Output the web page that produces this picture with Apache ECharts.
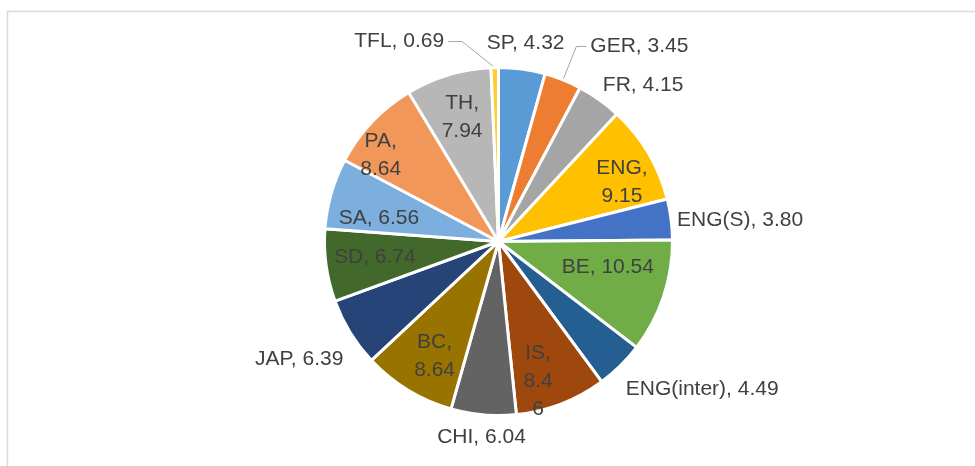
<!DOCTYPE html>
<html>
<head>
<meta charset="utf-8">
<script src="https://cdn.jsdelivr.net/npm/echarts@6/dist/echarts.min.js"></script>
<style>
  html, body { margin: 0; padding: 0; background: #ffffff; }
  #chart { width: 975px; height: 466px; }
</style>
</head>
<body>
<div id="chart"></div>
<script>
// ---- data ----
const categories = ['SP', 'GER', 'FR', 'ENG', 'ENG(S)', 'BE', 'ENG(inter)', 'IS', 'CHI', 'BC', 'JAP', 'SD', 'SA', 'PA', 'TH', 'TFL'];
const values = [4.32, 3.45, 4.15, 9.15, 3.80, 10.54, 4.49, 8.46, 6.04, 8.64, 6.39, 6.74, 6.56, 8.64, 7.94, 0.69];
const colors = ['#5B9BD5', '#ED7D31', '#A5A5A5', '#FFC000', '#4472C4', '#70AD47', '#255E91', '#9E480E', '#636363', '#997300', '#264478', '#43682B', '#7CAFDD', '#F1975A', '#B7B7B7', '#FFCD33'];

// ---- label placement / style (not data) ----
const labelPlacement = {
  'SP':         { pos: 'outside', len: 26, len2: 0, align: 'center' },
  'GER':        { pos: 'outside', len: 36, len2: 10, line: true },
  'FR':         { pos: 'outside', len: 18, len2: 0, dx: -7 },
  'ENG':        { pos: 'ring', wrap: 'two', dx: 3, dy: 12 },
  'ENG(S)':     { pos: 'outside', len: 6, len2: 0, dy: 2 },
  'BE':         { pos: 'inside', dx: 24, dy: -3 },
  'ENG(inter)': { pos: 'outside', len: 22, len2: 0, dx: -10, dy: 8 },
  'IS':         { pos: 'ring', wrap: 'split', dx: -11, dy: 9 },
  'CHI':        { pos: 'outside', len: 22, len2: 0, align: 'center' },
  'BC':         { pos: 'ring', wrap: 'two', dx: 9, dy: -5 },
  'JAP':        { pos: 'outside', len: 8, len2: 0, dy: 22 },
  'SD':         { pos: 'ring', dx: 15, dy: -4 },
  'SA':         { pos: 'ring', dx: 15, dy: 15 },
  'PA':         { pos: 'ring', wrap: 'two', dx: -16, dy: 10 },
  'TH':         { pos: 'ring', wrap: 'two', dx: 4, dy: 10 },
  'TFL':        { pos: 'outside', len: 26, len2: 46, line: true, bend: 14 }
};

const CX = 498.5, CY = 241.5, R = 174, RING_INNER = 100;
const TEXT_COLOR = '#404040';
const FONT = 'Liberation Sans, Arial, sans-serif';

function fmt(p) {
  const cfg = labelPlacement[p.name] || {};
  const v = Number(p.value).toFixed(2);
  if (cfg.wrap === 'two') return p.name + ',\n' + v;
  if (cfg.wrap === 'split') return p.name + ',\n' + v.slice(0, 3) + '\n' + v.slice(3);
  return p.name + ', ' + v;
}

const mainData = categories.map((name, i) => {
  const cfg = labelPlacement[name];
  return {
    name: name,
    value: values[i],
    itemStyle: { color: colors[i] },
    label: {
      show: cfg.pos !== 'ring',
      position: cfg.pos === 'inside' ? 'inside' : 'outside',
      distanceToLabelLine: cfg.line ? 4 : 0
    },
    labelLine: {
      show: !!cfg.line,
      length: cfg.len || 0,
      length2: cfg.len2 || 0
    }
  };
});

const ringData = categories.map((name, i) => {
  const cfg = labelPlacement[name];
  return {
    name: name,
    value: values[i],
    label: { show: cfg.pos === 'ring', position: 'inside' },
    labelLine: { show: false }
  };
});

const labelText = {
  color: TEXT_COLOR,
  fontFamily: FONT,
  fontSize: 21,
  lineHeight: 28,
  formatter: fmt
};

function nudge(p) {
  const cfg = labelPlacement[categories[p.dataIndex]] || {};
  const o = {};
  if (cfg.dx) o.dx = cfg.dx;
  if (cfg.dy) o.dy = cfg.dy;
  if (cfg.align) o.align = cfg.align;
  if (cfg.bend && p.labelLinePoints && p.labelLinePoints.length === 3) {
    const pts = p.labelLinePoints.map(q => q.slice());
    pts[1] = [pts[2][0] + cfg.bend, pts[1][1]];
    o.labelLinePoints = pts;
  }
  return o;
}

const chart = echarts.init(document.getElementById('chart'), null, { renderer: 'canvas' });
chart.setOption({
  animation: false,
  backgroundColor: '#ffffff',
  graphic: [{
    type: 'rect',
    z: -10,
    shape: { x: 7.5, y: 11.5, width: 1000, height: 500 },
    style: { fill: 'none', stroke: '#d9d9d9', lineWidth: 1.5 },
    silent: true
  }],
  series: [
    {
      type: 'pie',
      center: [CX, CY],
      radius: [0, R],
      startAngle: 90,
      clockwise: true,
      avoidLabelOverlap: false,
      itemStyle: { borderColor: '#ffffff', borderWidth: 3 },
      label: Object.assign({}, labelText),
      labelLine: { smooth: false, lineStyle: { color: '#a6a6a6', width: 1 } },
      labelLayout: nudge,
      emphasis: { disabled: true },
      data: mainData
    },
    {
      type: 'pie',
      center: [CX, CY],
      radius: [RING_INNER, R],
      startAngle: 90,
      clockwise: true,
      avoidLabelOverlap: false,
      silent: true,
      itemStyle: { color: 'rgba(0,0,0,0)', borderWidth: 0 },
      label: Object.assign({}, labelText),
      labelLayout: nudge,
      emphasis: { disabled: true },
      data: ringData
    }
  ]
});
</script>
</body>
</html>
